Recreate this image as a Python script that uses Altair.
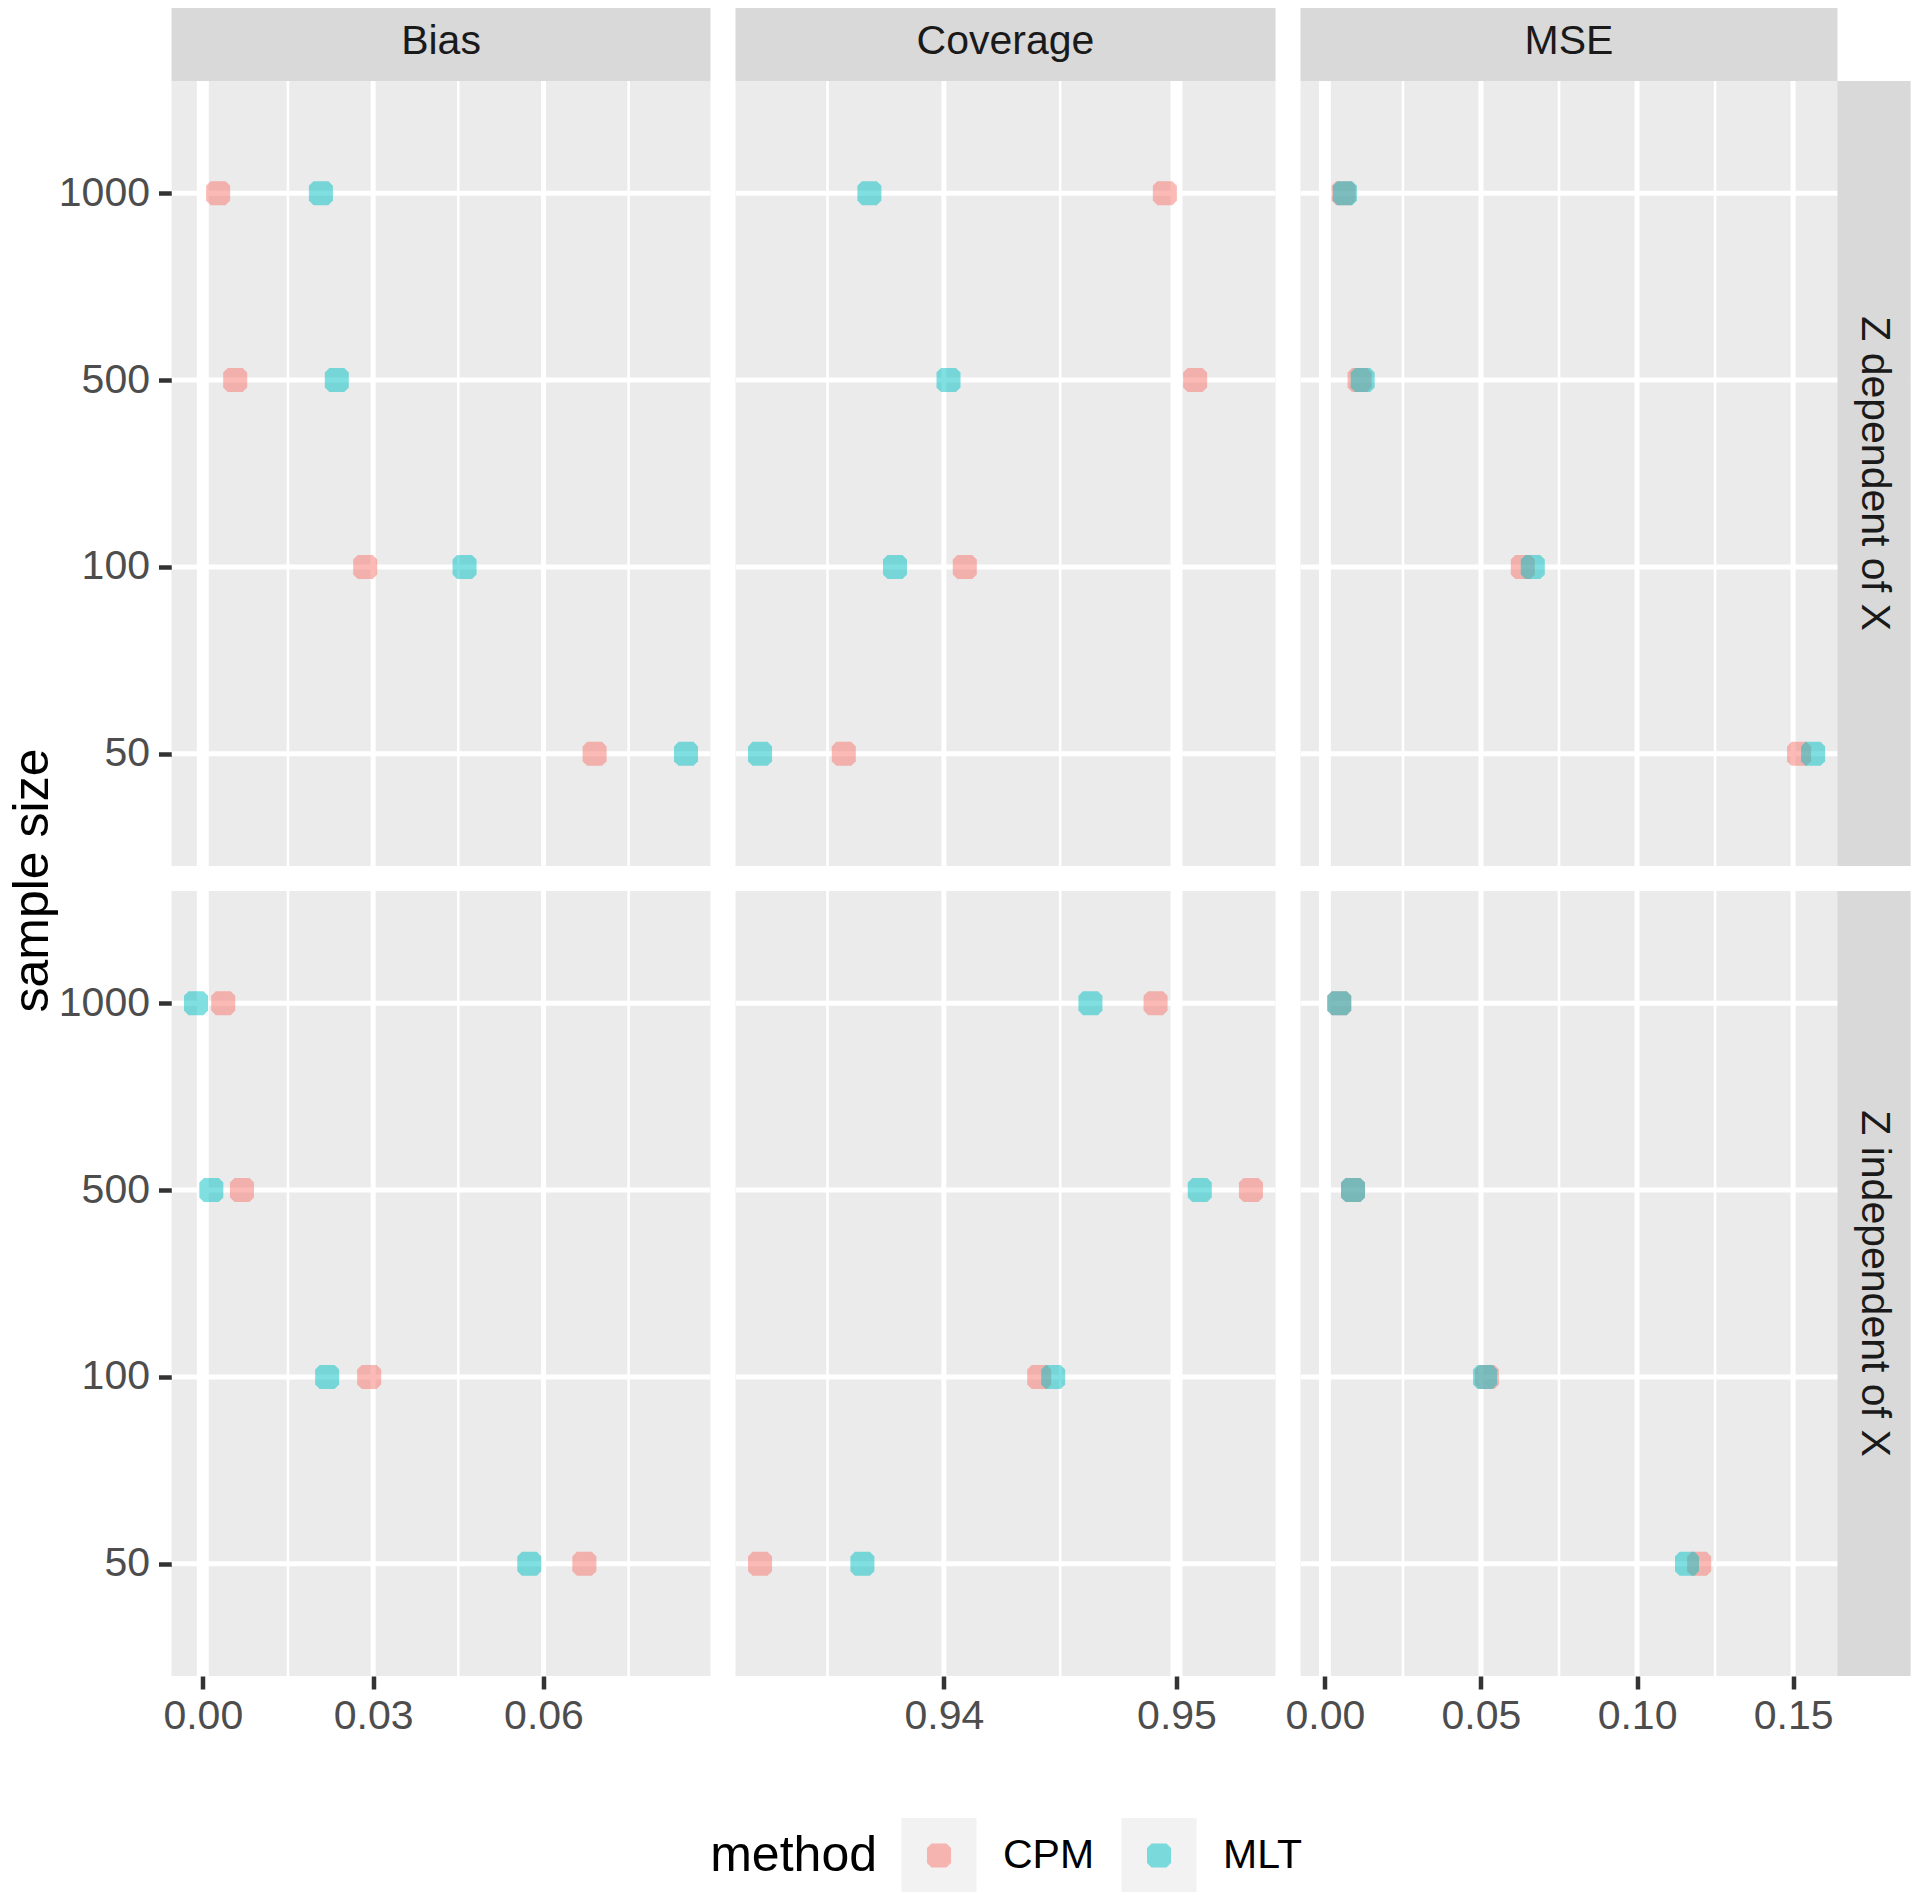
import altair as alt
import pandas as pd

FONT = "Liberation Sans"

metrics = ["Bias", "Coverage", "MSE"]
scenarios = ["Z dependent of X", "Z independent of X"]
sizes = ["1000", "500", "100", "50"]
methods = ["CPM", "MLT"]
method_colors = ["#F8766D", "#00BFC4"]

# values listed in the order of `sizes` (1000, 500, 100, 50)
bias_dep_cpm = [0.0027, 0.0057, 0.0286, 0.0690]
bias_dep_mlt = [0.0208, 0.0236, 0.0461, 0.0851]
bias_ind_cpm = [0.0036, 0.0069, 0.0293, 0.0672]
bias_ind_mlt = [-0.0012, 0.0015, 0.0219, 0.0575]
cov_dep_cpm = [0.9495, 0.9508, 0.9409, 0.9357]
cov_dep_mlt = [0.9368, 0.9402, 0.9379, 0.9321]
cov_ind_cpm = [0.9491, 0.9532, 0.9441, 0.9321]
cov_ind_mlt = [0.9463, 0.9510, 0.9447, 0.9365]
mse_dep_cpm = [0.0060, 0.0111, 0.0634, 0.1519]
mse_dep_mlt = [0.0064, 0.0121, 0.0666, 0.1564]
mse_ind_cpm = [0.0046, 0.0090, 0.0519, 0.1199]
mse_ind_mlt = [0.0046, 0.0090, 0.0513, 0.1160]

major_ticks = [[0.0, 0.03, 0.06], [0.94, 0.95], [0.0, 0.05, 0.10, 0.15]]
minor_ticks = [[0.015, 0.045, 0.075], [0.935, 0.945], [0.025, 0.075, 0.125]]
ref_lines = [0.0, 0.95, 0.0]

series = {
    ("Bias", "Z dependent of X"): (bias_dep_cpm, bias_dep_mlt),
    ("Bias", "Z independent of X"): (bias_ind_cpm, bias_ind_mlt),
    ("Coverage", "Z dependent of X"): (cov_dep_cpm, cov_dep_mlt),
    ("Coverage", "Z independent of X"): (cov_ind_cpm, cov_ind_mlt),
    ("MSE", "Z dependent of X"): (mse_dep_cpm, mse_dep_mlt),
    ("MSE", "Z independent of X"): (mse_ind_cpm, mse_ind_mlt),
}

rows = []
for (metric, scen), (cpm, mlt) in series.items():
    for meth, vals in zip(methods, (cpm, mlt)):
        for n, v in zip(sizes, vals):
            rows.append({"metric": metric, "scenario": scen, "method": meth, "n": n, "value": v})
df = pd.DataFrame(rows)

# ggplot-like free x domains: data range (incl. reference line) expanded by 5%
domains = []
for i, m in enumerate(metrics):
    vals = list(df[df.metric == m]["value"]) + [ref_lines[i]]
    lo, hi = min(vals), max(vals)
    pad = 0.05 * (hi - lo)
    domains.append([lo - pad, hi + pad])

SHAPE = "M-0.62,-1L0.62,-1L1,-0.62L1,0.62L0.62,1L-0.62,1L-1,0.62L-1,-0.62Z"
PANEL_W = [539, 540, 537]
STRIP_W = 73
PANEL_H = 785
STRIP_H = 73
SMALL = 41
BIG = 50

color_scale = alt.Scale(domain=methods, range=method_colors)


def panel(i, j):
    metric = metrics[i]
    scen = scenarios[j]
    sub = df[(df.metric == metric) & (df.scenario == scen)]
    bottom = j == 1
    left = i == 0
    w = PANEL_W[i] + (STRIP_W if i == 2 else 0)
    xscale = alt.Scale(domain=domains[i], nice=False, zero=False, range=[0, PANEL_W[i]])
    xaxis = alt.Axis(values=major_ticks[i], format=".2f", title=None, labels=bottom,
                     ticks=bottom, domain=False, grid=False, labelFlush=False,
                     labelOverlap=False)
    yaxis = alt.Axis(title=None, labels=left, ticks=left, domain=False, grid=False)
    yscale = alt.Scale(domain=sizes, type="point", padding=0.6)

    xminor = alt.Chart(pd.DataFrame({"v": minor_ticks[i]})).mark_rule(
        color="white", strokeWidth=2.6, clip=True).encode(
        x=alt.X("v:Q", scale=xscale, axis=xaxis))
    xmajor = alt.Chart(pd.DataFrame({"v": major_ticks[i]})).mark_rule(
        color="white", strokeWidth=5, clip=True).encode(
        x=alt.X("v:Q", scale=xscale, axis=xaxis))
    ymajor = alt.Chart(pd.DataFrame({"n": sizes})).mark_rule(
        color="white", strokeWidth=5, clip=True).encode(
        y=alt.Y("n:N", scale=yscale, axis=yaxis))
    ref = alt.Chart(pd.DataFrame({"v": [ref_lines[i]]})).mark_rule(
        color="white", strokeWidth=12, clip=True).encode(
        x=alt.X("v:Q", scale=xscale, axis=xaxis))
    pts = alt.Chart(sub).mark_point(shape=SHAPE, size=576, filled=True, opacity=0.5,
                                    strokeWidth=0).encode(
        x=alt.X("value:Q", scale=xscale, axis=xaxis),
        y=alt.Y("n:N", scale=yscale, axis=yaxis),
        color=alt.Color("method:N", scale=color_scale, legend=None),
    )
    layers = [xminor, xmajor, ymajor, ref, pts]
    if i == 2:
        sdf = pd.DataFrame({"label": [scen]})
        srect = alt.Chart(sdf).mark_rect(color="#D9D9D9").encode(
            x=alt.value(PANEL_W[i]), x2=alt.value(w), y=alt.value(0), y2=alt.value(PANEL_H))
        stext = alt.Chart(sdf).mark_text(font=FONT, fontSize=SMALL, color="#1A1A1A",
                                         angle=90).encode(
            text="label:N", x=alt.value(PANEL_W[i] + STRIP_W / 2), y=alt.value(PANEL_H / 2))
        layers += [srect, stext]
    return alt.layer(*layers).properties(
        width=w, height=PANEL_H, view=alt.ViewBackground(fill="#EBEBEB", strokeWidth=0))


def top_strip(i):
    return alt.Chart(pd.DataFrame({"label": [metrics[i]]})).mark_text(
        font=FONT, fontSize=SMALL, color="#1A1A1A").encode(
        text="label:N", x=alt.value(PANEL_W[i] / 2), y=alt.value(34)).properties(
        width=PANEL_W[i], height=STRIP_H, view=alt.ViewBackground(fill="#D9D9D9", strokeWidth=0))


strip_row = alt.hconcat(*[top_strip(i) for i in range(3)], spacing=25, bounds="flush")
row1 = alt.hconcat(*[panel(i, 0) for i in range(3)], spacing=25, bounds="flush")
row2 = alt.hconcat(*[panel(i, 1) for i in range(3)], spacing=25, bounds="flush")
grid = alt.vconcat(strip_row, alt.vconcat(row1, row2, spacing=25), spacing=0)

# custom ggplot-style legend
leg_df = pd.DataFrame({"method": methods})
leg_x = alt.X("method:N", scale=alt.Scale(domain=methods, type="point", padding=0,
                                         range=[767.5, 987.5]), axis=None)
keys = alt.Chart(leg_df).mark_square(size=5625, color="#F2F2F2", opacity=1).encode(
    x=leg_x, y=alt.value(36.5))
dots = alt.Chart(leg_df).mark_point(shape=SHAPE, size=576, filled=True, opacity=0.5,
                                    strokeWidth=0).encode(
    x=leg_x, y=alt.value(36.5), color=alt.Color("method:N", scale=color_scale, legend=None))
labels = alt.Chart(leg_df).mark_text(align="left", dx=64, fontSize=SMALL, font=FONT,
                                     color="black").encode(
    x=leg_x, y=alt.value(36.5), text="method:N")
ltitle = alt.Chart(pd.DataFrame({"method": [methods[0]], "t": ["method"]})).mark_text(
    align="right", dx=-62, fontSize=BIG, font=FONT, color="black").encode(
    x=leg_x, y=alt.value(36.5), text="t:N")
legend = alt.layer(keys, dots, labels, ltitle).properties(
    width=1700, height=73, view=alt.ViewBackground(fill="white", strokeWidth=0))

PAD = {"left": -0.5, "top": 0, "right": 0, "bottom": 0}

chart = alt.vconcat(
    grid, legend, spacing=82, padding=PAD,
    title=alt.TitleParams(text="sample size", orient="left", anchor="middle", fontSize=BIG,
                          font=FONT, fontWeight="normal", color="black", offset=0, dx=70),
).configure(padding=PAD).configure_view(strokeWidth=0).configure_axis(
    labelFont=FONT, labelFontSize=SMALL, labelColor="#4D4D4D", tickColor="#333333",
    tickWidth=4.5, tickSize=13,
).configure_axisX(labelPadding=7).configure_axisY(labelPadding=9)

chart.save("out.html", embed_options={"renderer": "svg", "actions": False})
